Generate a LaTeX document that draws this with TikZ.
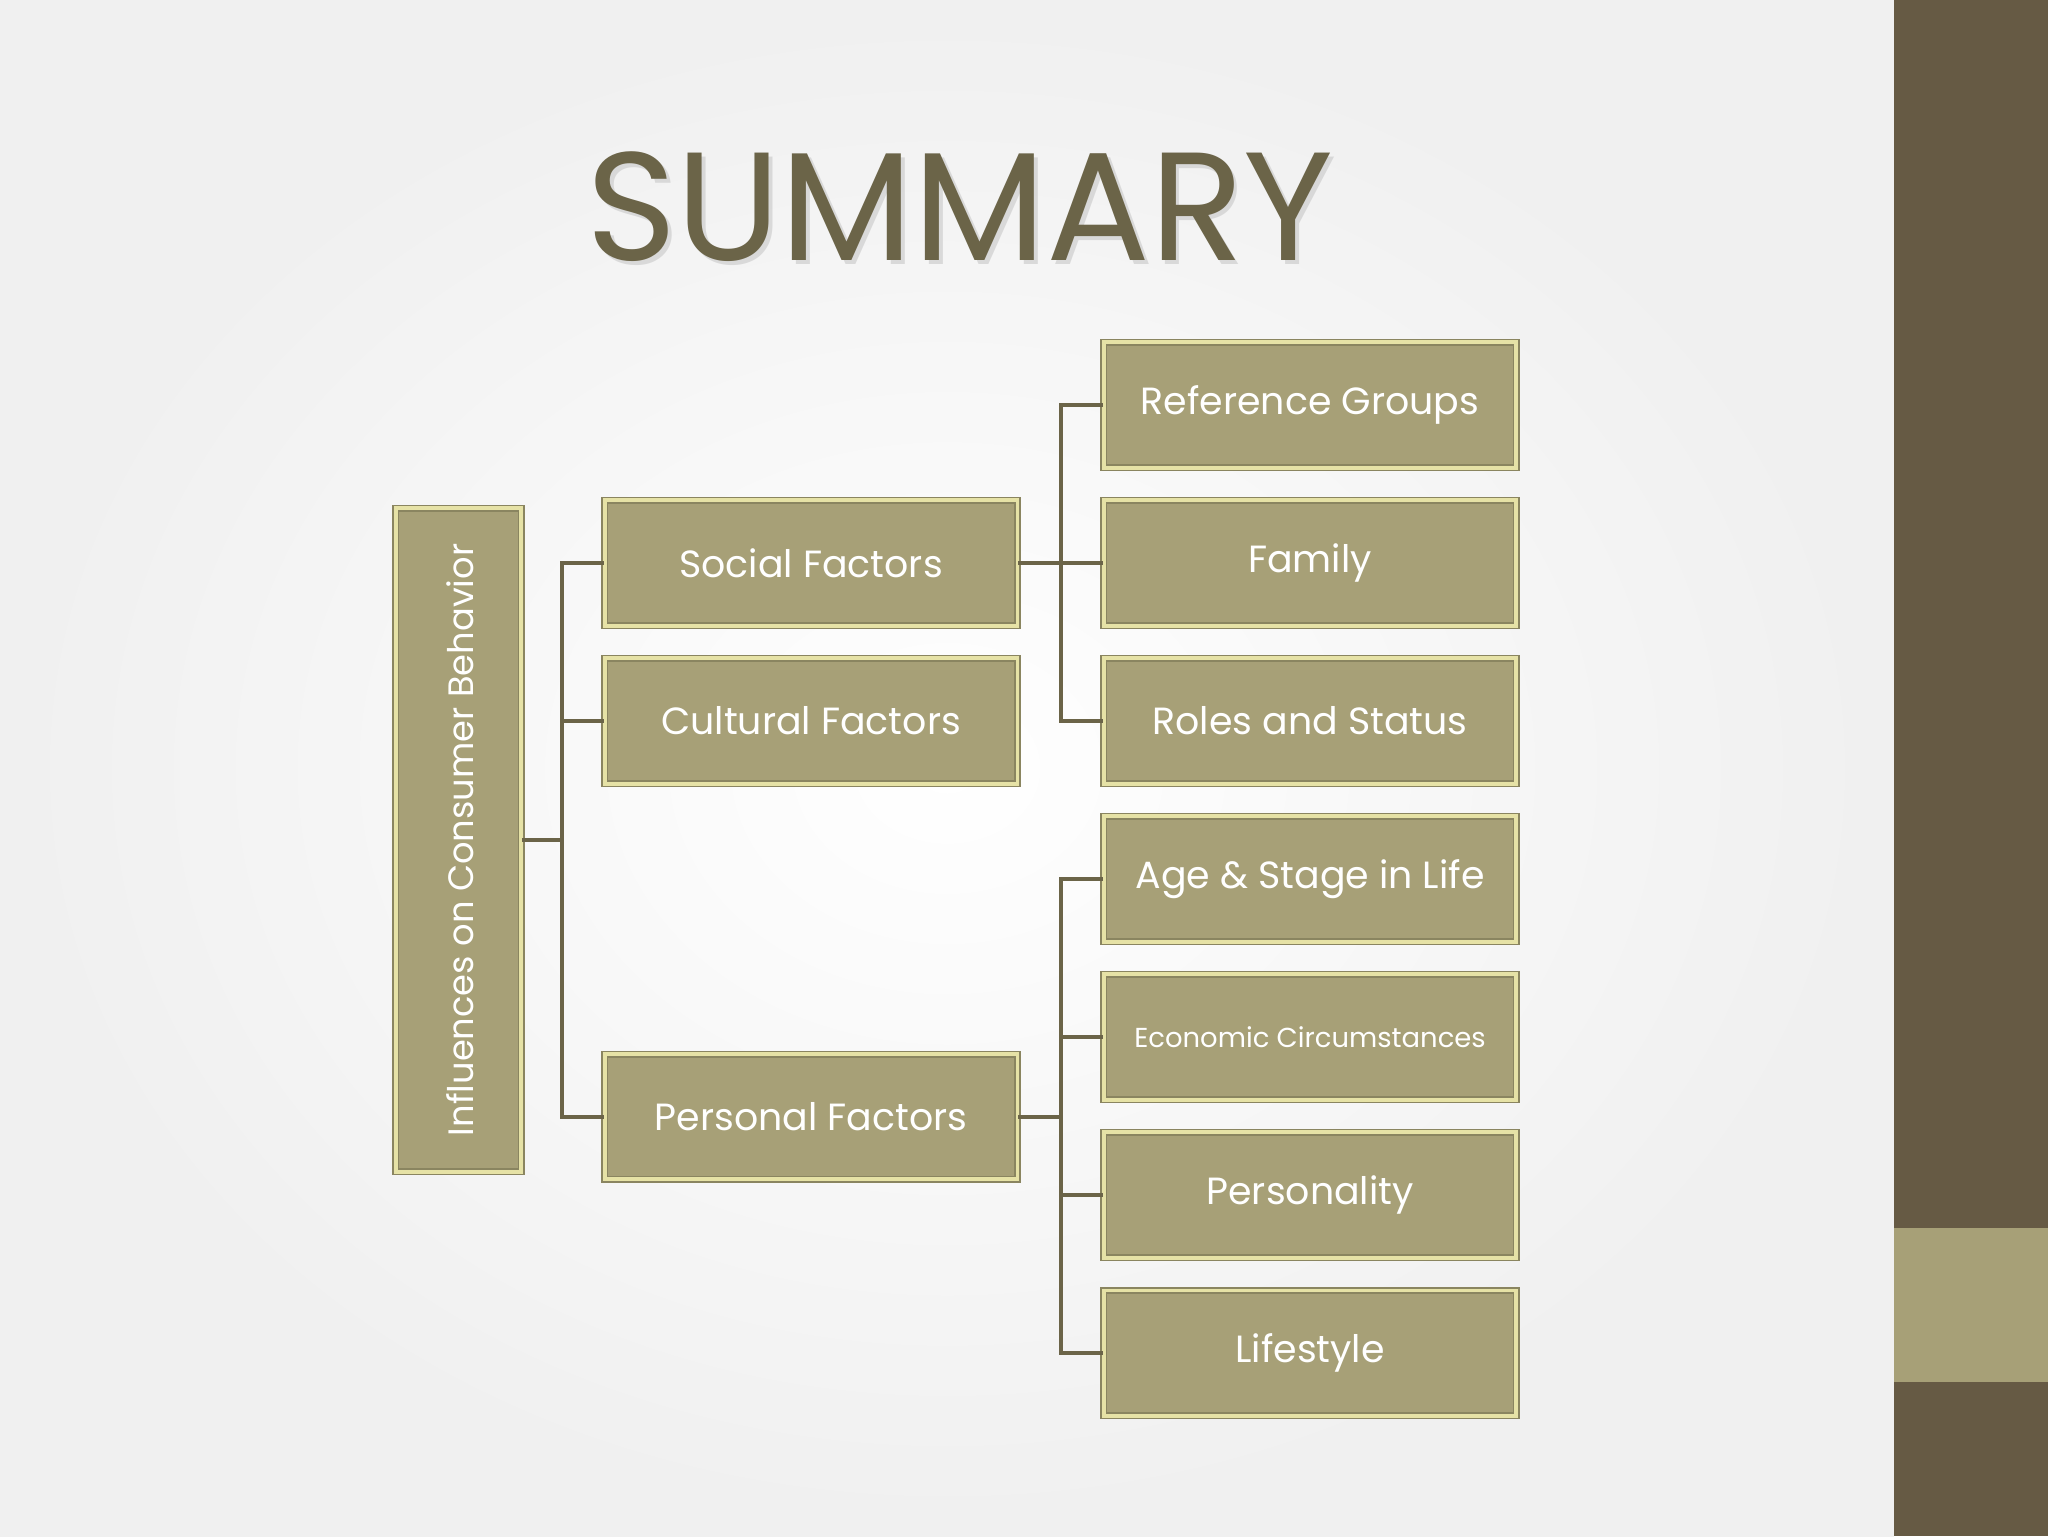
\documentclass[tikz,border=0pt]{standalone}
\usepackage{fontspec}
\setmainfont{Poppins}
\usetikzlibrary{shadows}
\definecolor{dk}{HTML}{665A44}
\definecolor{ln}{HTML}{6B6448}
\definecolor{bx}{HTML}{A7A077}
\definecolor{bd}{HTML}{E6E2A6}
\definecolor{ob}{HTML}{8A8560}
\tikzset{
 bxs/.style={draw=ob,line width=1.2pt,fill=bx,minimum width=316pt,minimum height=96pt,
   double=bd,double distance=3pt,font=\fontsize{29}{33}\selectfont,text=white,
   drop shadow={shadow xshift=2pt,shadow yshift=-2pt,opacity=0.3}},
 cn/.style={draw=ln,line width=3pt}
}
\begin{document}
\begin{tikzpicture}[x=1pt,y=-1pt]
\useasboundingbox (0,0) rectangle (1568,1176);
\shade[inner color=white,outer color=gray!12] (0,0) rectangle (1450,1176);
\fill[dk] (1450,0) rectangle (1568,1176);
\fill[bx] (1450,940) rectangle (1568,1058);
\node[text=gray!50,opacity=0.5,font=\fontsize{118}{118}\selectfont] at (738,161) {SUMMARY};
\node (title) [text=ln,font=\fontsize{118}{118}\selectfont] at (735,158) {SUMMARY};
% root
\node (root) [bxs,minimum width=96pt,minimum height=508pt] at (351,643) {};
\node[rotate=90,text=white,font=\fontsize{27}{30}\selectfont] at (352,643) {Influences on Consumer Behavior};
% mid
\node (soc) [bxs] at (621,431) {Social Factors};
\node (cul) [bxs] at (621,552) {Cultural Factors};
\node (per) [bxs] at (621,855) {Personal Factors};
% right
\node (r1) [bxs] at (1003,310) {Reference Groups};
\node (r2) [bxs] at (1003,431) {Family};
\node (r3) [bxs] at (1003,552) {Roles and Status};
\node (r4) [bxs] at (1003,673) {Age \& Stage in Life};
\node (r5) [bxs,font=\fontsize{21}{24}\selectfont] at (1003,794) {Economic Circumstances};
\node (r6) [bxs] at (1003,915) {Personality};
\node (r7) [bxs] at (1003,1036) {Lifestyle};
% connectors
\coordinate (a) at (430,643);
\draw[cn] (root.east) -- (a);
\draw[cn] (soc.west) -| (a) |- (per.west);
\draw[cn] (cul.west) -- (cul.west -| a);
\coordinate (b) at (812,431);
\draw[cn] (soc.east) -- (b);
\draw[cn] (r1.west) -| (b) |- (r3.west);
\draw[cn] (b) -- (r2.west);
\coordinate (c) at (812,855);
\draw[cn] (per.east) -- (c);
\draw[cn] (r4.west) -| (c) |- (r7.west);
\draw[cn] (r5.west) -- (r5.west -| c);
\draw[cn] (r6.west) -- (r6.west -| c);
\end{tikzpicture}
\end{document}
